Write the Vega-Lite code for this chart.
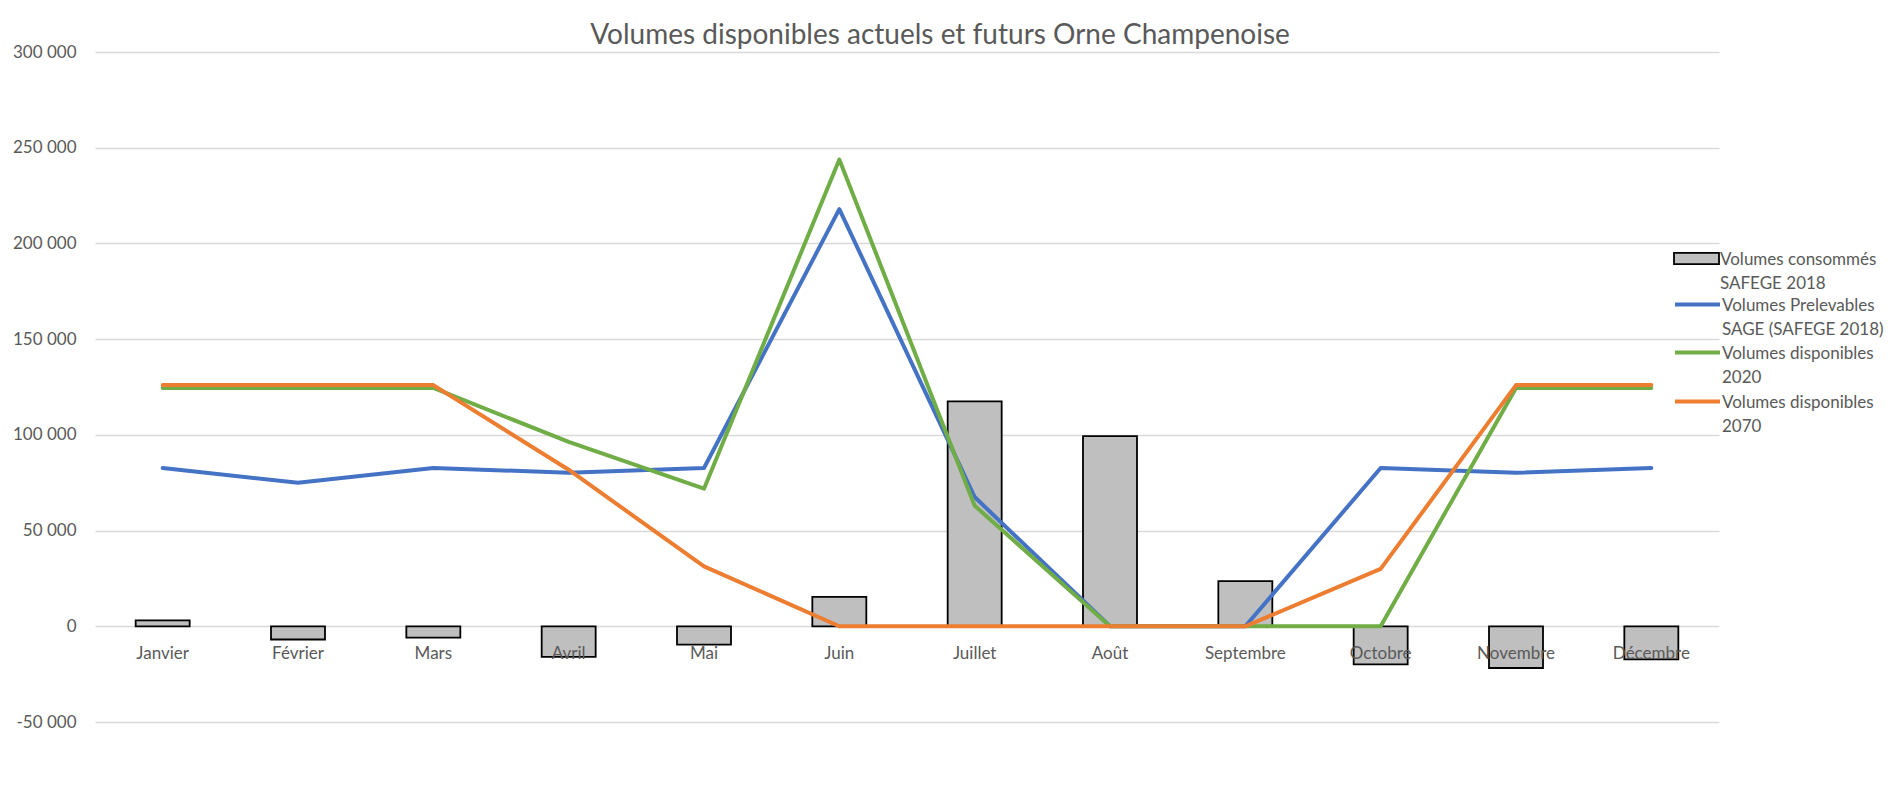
{
  "$schema": "https://vega.github.io/schema/vega-lite/v6.json",
  "width": 1624,
  "height": 670,
  "autosize": {"type": "none"},
  "padding": {"left": 95, "top": 52, "right": 174, "bottom": 71},
  "background": "white",
  "title": {
    "text": "Volumes disponibles actuels et futurs Orne Champenoise",
    "font": "Lato",
    "fontSize": 28,
    "fontWeight": "normal",
    "color": "#595959",
    "anchor": "middle",
    "baseline": "bottom",
    "offset": 4,
    "dx": 33,
    "dy": 39
  },
  "data": {
    "values": [
      {"mois": "Janvier", "serie": "Volumes consommés SAFEGE 2018", "volume": 3100},
      {"mois": "Février", "serie": "Volumes consommés SAFEGE 2018", "volume": -6900},
      {"mois": "Mars", "serie": "Volumes consommés SAFEGE 2018", "volume": -5900},
      {"mois": "Avril", "serie": "Volumes consommés SAFEGE 2018", "volume": -16000},
      {"mois": "Mai", "serie": "Volumes consommés SAFEGE 2018", "volume": -9600},
      {"mois": "Juin", "serie": "Volumes consommés SAFEGE 2018", "volume": 15400},
      {"mois": "Juillet", "serie": "Volumes consommés SAFEGE 2018", "volume": 117500},
      {"mois": "Août", "serie": "Volumes consommés SAFEGE 2018", "volume": 99300},
      {"mois": "Septembre", "serie": "Volumes consommés SAFEGE 2018", "volume": 23600},
      {"mois": "Octobre", "serie": "Volumes consommés SAFEGE 2018", "volume": -19900},
      {"mois": "Novembre", "serie": "Volumes consommés SAFEGE 2018", "volume": -21800},
      {"mois": "Décembre", "serie": "Volumes consommés SAFEGE 2018", "volume": -17300},
      {"mois": "Janvier", "serie": "Volumes Prelevables SAGE (SAFEGE 2018)", "volume": 82700},
      {"mois": "Février", "serie": "Volumes Prelevables SAGE (SAFEGE 2018)", "volume": 75000},
      {"mois": "Mars", "serie": "Volumes Prelevables SAGE (SAFEGE 2018)", "volume": 82700},
      {"mois": "Avril", "serie": "Volumes Prelevables SAGE (SAFEGE 2018)", "volume": 80200},
      {"mois": "Mai", "serie": "Volumes Prelevables SAGE (SAFEGE 2018)", "volume": 82700},
      {"mois": "Juin", "serie": "Volumes Prelevables SAGE (SAFEGE 2018)", "volume": 217900},
      {"mois": "Juillet", "serie": "Volumes Prelevables SAGE (SAFEGE 2018)", "volume": 67500},
      {"mois": "Août", "serie": "Volumes Prelevables SAGE (SAFEGE 2018)", "volume": 0},
      {"mois": "Septembre", "serie": "Volumes Prelevables SAGE (SAFEGE 2018)", "volume": 0},
      {"mois": "Octobre", "serie": "Volumes Prelevables SAGE (SAFEGE 2018)", "volume": 82700},
      {"mois": "Novembre", "serie": "Volumes Prelevables SAGE (SAFEGE 2018)", "volume": 80200},
      {"mois": "Décembre", "serie": "Volumes Prelevables SAGE (SAFEGE 2018)", "volume": 82700},
      {"mois": "Janvier", "serie": "Volumes disponibles 2020", "volume": 124500},
      {"mois": "Février", "serie": "Volumes disponibles 2020", "volume": 124500},
      {"mois": "Mars", "serie": "Volumes disponibles 2020", "volume": 124500},
      {"mois": "Avril", "serie": "Volumes disponibles 2020", "volume": 96300},
      {"mois": "Mai", "serie": "Volumes disponibles 2020", "volume": 71900},
      {"mois": "Juin", "serie": "Volumes disponibles 2020", "volume": 243800},
      {"mois": "Juillet", "serie": "Volumes disponibles 2020", "volume": 63000},
      {"mois": "Août", "serie": "Volumes disponibles 2020", "volume": 0},
      {"mois": "Septembre", "serie": "Volumes disponibles 2020", "volume": 0},
      {"mois": "Octobre", "serie": "Volumes disponibles 2020", "volume": 0},
      {"mois": "Novembre", "serie": "Volumes disponibles 2020", "volume": 124500},
      {"mois": "Décembre", "serie": "Volumes disponibles 2020", "volume": 124500},
      {"mois": "Janvier", "serie": "Volumes disponibles 2070", "volume": 126000},
      {"mois": "Février", "serie": "Volumes disponibles 2070", "volume": 126000},
      {"mois": "Mars", "serie": "Volumes disponibles 2070", "volume": 126000},
      {"mois": "Avril", "serie": "Volumes disponibles 2070", "volume": 81800},
      {"mois": "Mai", "serie": "Volumes disponibles 2070", "volume": 31300},
      {"mois": "Juin", "serie": "Volumes disponibles 2070", "volume": 0},
      {"mois": "Juillet", "serie": "Volumes disponibles 2070", "volume": 0},
      {"mois": "Août", "serie": "Volumes disponibles 2070", "volume": 0},
      {"mois": "Septembre", "serie": "Volumes disponibles 2070", "volume": 0},
      {"mois": "Octobre", "serie": "Volumes disponibles 2070", "volume": 30000},
      {"mois": "Novembre", "serie": "Volumes disponibles 2070", "volume": 126000},
      {"mois": "Décembre", "serie": "Volumes disponibles 2070", "volume": 126000}
    ]
  },
  "encoding": {
    "x": {
      "field": "mois",
      "type": "nominal",
      "sort": ["Janvier", "Février", "Mars", "Avril", "Mai", "Juin", "Juillet", "Août", "Septembre", "Octobre", "Novembre", "Décembre"],
      "scale": {"paddingInner": 0, "paddingOuter": 0},
      "axis": {
        "title": null,
        "orient": "bottom",
        "offset": -95.7,
        "domain": false,
        "ticks": false,
        "grid": false,
        "labelAngle": 0,
        "labelFont": "Lato",
        "labelFontSize": 17,
        "labelColor": "#595959",
        "labelPadding": 19,
        "zindex": 1
      }
    },
    "y": {
      "field": "volume",
      "type": "quantitative",
      "scale": {"domain": [-50000, 300000], "nice": false, "zero": false},
      "axis": {
        "title": null,
        "values": [-50000, 0, 50000, 100000, 150000, 200000, 250000, 300000],
        "labelExpr": "datum.value < 0 ? '-' + replace(format(-datum.value, ','), ',', ' ') : replace(format(datum.value, ','), ',', ' ')",
        "domain": false,
        "ticks": false,
        "grid": true,
        "gridColor": "#D9D9D9",
        "gridWidth": 1.5,
        "labelFont": "Lato",
        "labelFontSize": 17,
        "labelColor": "#595959",
        "labelPadding": 19,
        "zindex": 0
      }
    }
  },
  "layer": [
    {
      "transform": [{"filter": "datum.serie === 'Volumes consommés SAFEGE 2018'"}],
      "mark": {"type": "bar", "size": 54, "stroke": "#000000", "strokeWidth": 1.8},
      "encoding": {
        "fill": {
          "field": "serie",
          "type": "nominal",
          "scale": {"domain": ["Volumes consommés SAFEGE 2018"], "range": ["#BFBFBF"]},
          "legend": {
            "legendY": 183,
            "symbolType": "M-1,-0.25H1V0.25H-1Z",
            "symbolStrokeColor": "#000000",
            "symbolStrokeWidth": 1.8,
            "labelExpr": "['Volumes consommés', 'SAFEGE 2018']",
            "encode": {"labels": {"update": {"lineHeight": {"value": 24}, "baseline": {"value": "middle"}, "dy": {"value": 1}}}}
          }
        }
      }
    },
    {
      "transform": [{"filter": "datum.serie === 'Volumes Prelevables SAGE (SAFEGE 2018)'"}],
      "mark": {"type": "line", "strokeWidth": 4, "strokeJoin": "round", "strokeCap": "round"},
      "encoding": {
        "stroke": {
          "field": "serie",
          "type": "nominal",
          "scale": {"domain": ["Volumes Prelevables SAGE (SAFEGE 2018)"], "range": ["#4472C4"]},
          "legend": {
            "legendY": 228,
            "symbolType": "M-1,0H1",
            "symbolStrokeWidth": 4,
            "labelExpr": "['Volumes Prelevables', 'SAGE (SAFEGE 2018)']",
            "encode": {"labels": {"update": {"lineHeight": {"value": 24}, "baseline": {"value": "middle"}, "dy": {"value": 1}}}}
          }
        }
      }
    },
    {
      "transform": [{"filter": "datum.serie === 'Volumes disponibles 2020'"}],
      "mark": {"type": "line", "strokeWidth": 4, "strokeJoin": "round", "strokeCap": "round"},
      "encoding": {
        "stroke": {
          "field": "serie",
          "type": "nominal",
          "scale": {"domain": ["Volumes disponibles 2020"], "range": ["#70AD47"]},
          "legend": {
            "legendY": 276,
            "symbolType": "M-1,0H1",
            "symbolStrokeWidth": 4,
            "labelExpr": "['Volumes disponibles', '2020']",
            "encode": {"labels": {"update": {"lineHeight": {"value": 24}, "baseline": {"value": "middle"}, "dy": {"value": 1}}}}
          }
        }
      }
    },
    {
      "transform": [{"filter": "datum.serie === 'Volumes disponibles 2070'"}],
      "mark": {"type": "line", "strokeWidth": 4, "strokeJoin": "round", "strokeCap": "round"},
      "encoding": {
        "stroke": {
          "field": "serie",
          "type": "nominal",
          "scale": {"domain": ["Volumes disponibles 2070"], "range": ["#ED7D31"]},
          "legend": {
            "legendY": 325,
            "symbolType": "M-1,0H1",
            "symbolStrokeWidth": 4,
            "labelExpr": "['Volumes disponibles', '2070']",
            "encode": {"labels": {"update": {"lineHeight": {"value": 24}, "baseline": {"value": "middle"}, "dy": {"value": 1}}}}
          }
        }
      }
    }
  ],
  "resolve": {
    "scale": {"stroke": "independent", "fill": "independent"},
    "legend": {"stroke": "independent", "fill": "independent"}
  },
  "config": {
    "view": {"stroke": null},
    "legend": {
      "title": null,
      "orient": "none",
      "legendX": 1578,
      "padding": 0,
      "labelFont": "Lato",
      "labelFontSize": 17,
      "labelColor": "#595959",
      "labelOffset": 0,
      "labelLimit": 400,
      "symbolSize": 2025,
      "symbolOpacity": 1
    }
  }
}
